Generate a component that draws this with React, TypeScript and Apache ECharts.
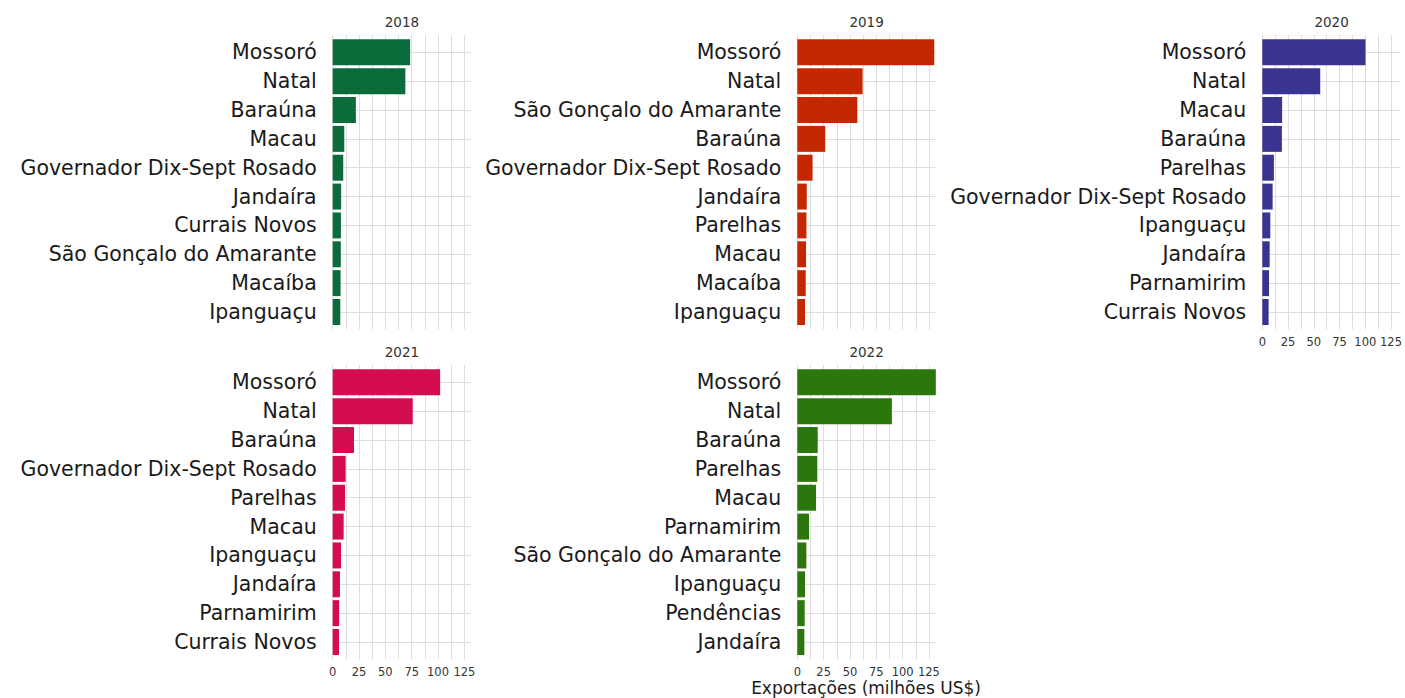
import React, { useEffect, useRef } from "react";
import * as echarts from "echarts";

const years = ["2018", "2019", "2020", "2021", "2022"];

const cats2018 = ["Mossoró", "Natal", "Baraúna", "Macau", "Governador Dix-Sept Rosado", "Jandaíra", "Currais Novos", "São Gonçalo do Amarante", "Macaíba", "Ipanguaçu"];
const vals2018 = [73.5, 69, 22, 11, 10, 8, 7.8, 7.7, 7.5, 7.2];

const cats2019 = ["Mossoró", "Natal", "São Gonçalo do Amarante", "Baraúna", "Governador Dix-Sept Rosado", "Jandaíra", "Parelhas", "Macau", "Macaíba", "Ipanguaçu"];
const vals2019 = [130, 62, 57, 26.5, 14.5, 9, 8.7, 8.3, 8, 7.3];

const cats2020 = ["Mossoró", "Natal", "Macau", "Baraúna", "Parelhas", "Governador Dix-Sept Rosado", "Ipanguaçu", "Jandaíra", "Parnamirim", "Currais Novos"];
const vals2020 = [98, 55, 18.8, 18.6, 11, 9.8, 7.6, 7, 6.4, 6];

const cats2021 = ["Mossoró", "Natal", "Baraúna", "Governador Dix-Sept Rosado", "Parelhas", "Macau", "Ipanguaçu", "Jandaíra", "Parnamirim", "Currais Novos"];
const vals2021 = [102, 76, 20.2, 12.3, 11.7, 10.4, 7.9, 6.9, 6.1, 6];

const cats2022 = ["Mossoró", "Natal", "Baraúna", "Parelhas", "Macau", "Parnamirim", "São Gonçalo do Amarante", "Ipanguaçu", "Pendências", "Jandaíra"];
const vals2022 = [131.5, 89.8, 19.4, 19, 17.8, 11.1, 8.6, 7.3, 7, 6.7];

const tickStep = 12.5;
const xTitle = "Exportações (milhões US$)";

const allCats = [cats2018, cats2019, cats2020, cats2021, cats2022];
const allVals = [vals2018, vals2019, vals2020, vals2021, vals2022];
const colors = ["#0b6b3a", "#c42800", "#38348f", "#d40c50", "#2b770c"];

const FONT = "DejaVu Sans";

export default function App() {
  const ref = useRef<HTMLDivElement>(null);
  useEffect(() => {
    if (!ref.current) return;
    const chart = echarts.init(ref.current, null, { renderer: "svg" });
    const xMax = Math.max(...allVals.flat());
    const lefts = [332.7, 797.3, 1262.3];
    const tops = [35, 365];
    const W = 138.5;
    const H = 294.3;
    const pad = 17.3;
    const grids: any[] = [];
    const xAxes: any[] = [];
    const yAxes: any[] = [];
    const series: any[] = [];
    const titles: any[] = [];
    const gridColor = "#dedede";
    const pos = years.map((_, i) => ({ left: lefts[i % 3], top: tops[Math.floor(i / 3)] }));
    // outer grids (vertical grid lines + x labels)
    years.forEach((y, i) => {
      const p = pos[i];
      grids.push({ left: p.left, top: p.top, width: W, height: H, containLabel: false });
      xAxes.push({
        type: "value", gridIndex: i, min: 0, max: xMax, interval: tickStep,
        axisLine: { show: false }, axisTick: { show: false },
        splitLine: { show: true, showMaxLine: false, lineStyle: { color: gridColor, width: 1 } },
        axisLabel: {
          show: i >= 2, margin: 7, fontSize: 11.5, color: "#333", fontFamily: FONT,
          showMaxLabel: false,
          formatter: (v: number) => (v % 25 === 0 ? String(v) : ""),
        },
      });
      yAxes.push({ type: "value", gridIndex: i, show: false, min: 0, max: 1 });
      titles.push({
        text: y, left: p.left + W / 2, top: p.top - 20, textAlign: "center", padding: 0,
        textStyle: { fontSize: 13.5, fontWeight: "normal", color: "#333", fontFamily: FONT },
      });
    });
    // inner grids (categories + bars)
    years.forEach((y, i) => {
      const p = pos[i];
      grids.push({ left: p.left, top: p.top + pad, width: W, height: H - 2 * pad, containLabel: false });
      xAxes.push({ type: "value", gridIndex: 5 + i, min: 0, max: xMax, show: false });
      yAxes.push({
        type: "category", gridIndex: 5 + i, data: allCats[i], inverse: true, boundaryGap: false,
        axisLine: { show: false }, axisTick: { show: false },
        axisLabel: { interval: 0, margin: 16, fontSize: 20.5, color: "#1a1a1a", fontFamily: FONT },
        splitLine: { show: true, lineStyle: { color: gridColor, width: 1 } },
      });
      series.push({
        type: "bar", name: y, xAxisIndex: 5 + i, yAxisIndex: 5 + i, data: allVals[i],
        barCategoryGap: "10%", itemStyle: { color: colors[i] },
      });
    });
    chart.setOption({
      animation: false,
      backgroundColor: "#ffffff",
      title: titles,
      grid: grids,
      xAxis: xAxes,
      yAxis: yAxes,
      series,
      graphic: [
        {
          type: "text", x: 866, y: 688,
          style: { text: xTitle, fontSize: 17, fill: "#1a1a1a", fontFamily: FONT, align: "center", verticalAlign: "middle" },
        },
      ],
    });
    return () => chart.dispose();
  }, []);
  return <div ref={ref} style={{ position: "fixed", left: 0, top: 0, width: 1405, height: 698 }} />;
}
